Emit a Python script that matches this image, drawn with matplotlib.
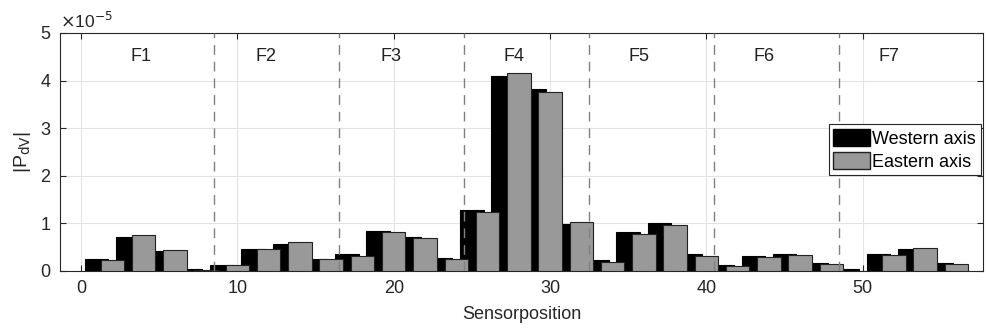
import matplotlib.pyplot as plt
from matplotlib.patches import Patch

plt.rcParams['font.family'] = ['Liberation Sans', 'DejaVu Sans']

# Sensor positions: western axis at odd positions, eastern axis at even ones
pos_west = [1, 3, 5, 7, 9, 11, 13, 15, 17, 19, 21, 23, 25, 27,
            29, 31, 33, 35, 37, 39, 41, 43, 45, 47, 49, 51, 53, 55]
pos_east = [2, 4, 6, 8, 10, 12, 14, 16, 18, 20, 22, 24, 26, 28,
            30, 32, 34, 36, 38, 40, 42, 44, 46, 48, 50, 52, 54, 56]

# |P_dV| in units of 1e-5
west_e5 = [0.25, 0.70, 0.41, 0.03, 0.12, 0.45, 0.57, 0.24, 0.34, 0.84,
           0.71, 0.27, 1.28, 4.10, 3.82, 0.98, 0.22, 0.81, 1.00, 0.35,
           0.12, 0.31, 0.34, 0.16, 0.03, 0.34, 0.46, 0.15]
east_e5 = [0.23, 0.74, 0.44, 0.02, 0.11, 0.45, 0.60, 0.25, 0.31, 0.81,
           0.69, 0.25, 1.24, 4.15, 3.75, 1.02, 0.19, 0.77, 0.95, 0.31,
           0.10, 0.28, 0.32, 0.13, 0.00, 0.33, 0.47, 0.13]

field_labels = ['F1', 'F2', 'F3', 'F4', 'F5', 'F6', 'F7']
field_label_x = [3.8, 11.8, 19.8, 27.7, 35.7, 43.7, 51.7]
field_bounds = [8.5, 16.5, 24.5, 32.5, 40.5, 48.5]

fig = plt.figure(figsize=(9.87, 3.29), dpi=100)
ax = fig.add_axes([0.0608, 0.1775, 0.9352, 0.7222])

ax.grid(True, color='#e3e3e3', linewidth=0.8)
ax.set_axisbelow(True)

ax.bar(pos_west, west_e5, width=1.5, color='black', edgecolor='black',
       linewidth=0.8, zorder=2)
ax.bar(pos_east, east_e5, width=1.5, color='#999999', edgecolor='#222222',
       linewidth=0.8, zorder=3)

for b in field_bounds:
    ax.axvline(b, color='#808080', linestyle=(0, (7, 5)), linewidth=1.0, zorder=4)
for lab, x in zip(field_labels, field_label_x):
    ax.text(x, 4.5, lab, ha='center', va='center', fontsize=13, color='#222222')

ax.set_xlim(-1.35, 57.7)
ax.set_ylim(0, 5)
ax.set_xticks([0, 10, 20, 30, 40, 50])
ax.set_yticks([0, 1, 2, 3, 4, 5])
ax.tick_params(direction='in', top=True, right=True, labelsize=13,
               length=4, colors='#262626', pad=7)
for s in ax.spines.values():
    s.set_color('#262626')
    s.set_linewidth(0.8)

ax.set_xlabel('Sensorposition', fontsize=13, color='#262626', labelpad=6)
ax.set_ylabel(r'|P$_{\mathrm{dV}}$|', fontsize=14, color='#262626', labelpad=5)
ax.text(0.0, 1.01, r'$\times$10$^{-5}$', transform=ax.transAxes,
        ha='left', va='bottom', fontsize=12.5, color='#262626')

handles = [Patch(facecolor='black', edgecolor='black', label='Western axis'),
           Patch(facecolor='#999999', edgecolor='#222222', label='Eastern axis')]
leg = ax.legend(handles=handles, loc='upper left', bbox_to_anchor=(0.833, 0.616),
                fontsize=13, frameon=True, fancybox=False, framealpha=1,
                edgecolor='#262626', borderpad=0.25, handlelength=2.0,
                handleheight=1.1, handletextpad=0.15, labelspacing=0.25,
                borderaxespad=0)
leg.get_frame().set_linewidth(0.8)

fig.savefig('out.png', dpi=100)
